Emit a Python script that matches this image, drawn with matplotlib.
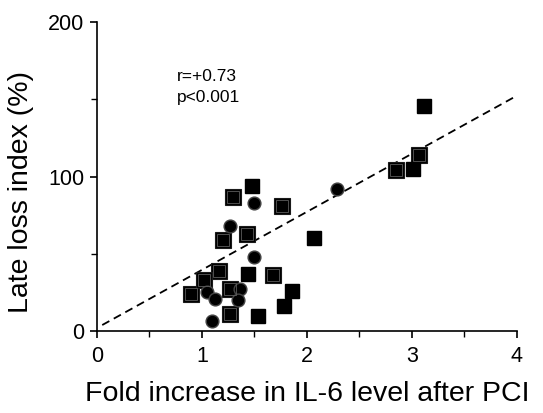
import matplotlib
matplotlib.use("Agg")
import matplotlib.pyplot as plt
import numpy as np

plt.rcParams['font.family'] = ['Liberation Sans', 'DejaVu Sans']

# squares drawn with a faint inner outline
sq_big_x = [1.30, 1.76, 1.20, 1.43, 1.16, 1.68, 0.90, 1.27, 1.27, 1.02, 3.07, 2.85]
sq_big_y = [87, 81, 59, 63, 39, 36, 24, 11, 27, 33, 114, 104]
# plain black squares
sq_x = [1.48, 2.07, 1.44, 1.86, 1.78, 1.53, 3.11, 3.01]
sq_y = [94, 60, 37, 26, 16, 10, 146, 105]
# circles
circ_x = [1.50, 1.27, 1.50, 1.36, 1.05, 1.12, 1.34, 1.10, 2.29]
circ_y = [83, 68, 48, 27, 25, 21, 20, 6.5, 92]

fit_x = [0.05, 4.0]
fit_slope, fit_intercept = 37.6, 2.0

fig = plt.figure(figsize=(5.43, 4.13), dpi=100)
ax = fig.add_axes([0.1786, 0.1985, 0.7735, 0.748])

fx = np.array(fit_x)
ax.plot(fx, fit_slope * fx + fit_intercept, ls=(0, (4.5, 2.8)), color='black', lw=1.3, zorder=1)

ax.plot(sq_big_x, sq_big_y, 's', ms=11.5, mfc='black', mec='#1a1a1a', mew=0.8, zorder=3)
ax.plot(sq_big_x, sq_big_y, 's', ms=8, mfc='none', mec='#5c5c5c', mew=0.6, zorder=4)
ax.plot(sq_x, sq_y, 's', ms=9.5, mfc='black', mec='black', zorder=3)
ax.plot(circ_x, circ_y, 'o', ms=9.2, mfc='black', mec='#444444', mew=1.0, zorder=3)

ax.text(0.76, 165, 'r=+0.73', fontsize=12.5, va='center', ha='left')
ax.text(0.76, 151, 'p<0.001', fontsize=12.5, va='center', ha='left')

ax.set_xlim(0, 4)
ax.set_ylim(0, 200)
ax.set_xticks([0, 1, 2, 3, 4])
ax.set_xticks([0.5, 1.5, 2.5, 3.5], minor=True)
ax.set_yticks([0, 100, 200])
ax.set_yticks([50, 150], minor=True)
ax.spines['top'].set_visible(False)
ax.spines['right'].set_visible(False)
for s in ['left', 'bottom']:
    ax.spines[s].set_linewidth(1.2)
ax.tick_params(axis='both', which='major', direction='out', length=5, width=1.2, labelsize=15.5)
ax.tick_params(axis='both', which='minor', direction='out', length=4, width=1.0)
ax.tick_params(axis='x', pad=6)
ax.tick_params(axis='y', pad=4)

ax.set_xlabel('Fold increase in IL-6 level after PCI', fontsize=20.5, labelpad=10)
ax.set_ylabel('Late loss index (%)', fontsize=20.5)
ax.yaxis.set_label_coords(-0.15, 0.45)

fig.savefig('out.png', dpi=100)
